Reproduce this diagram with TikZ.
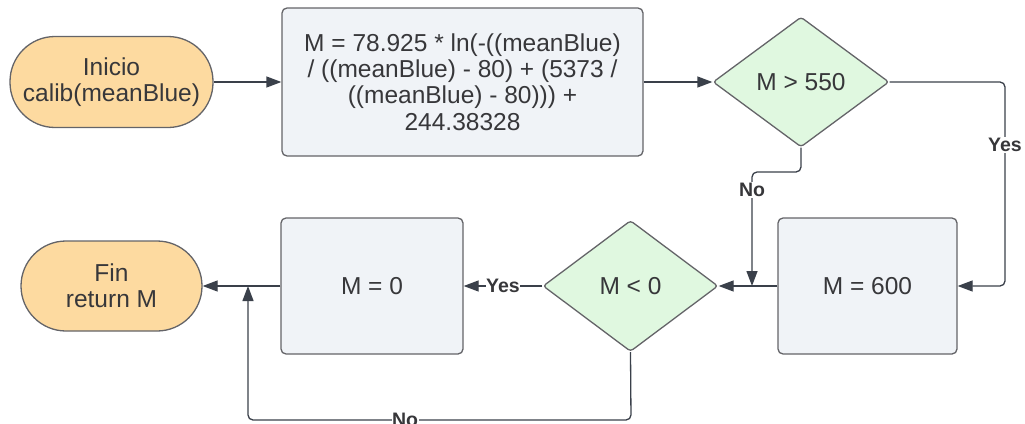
\documentclass[tikz,border=0pt]{standalone}
\usepackage{fontspec}
\setmainfont{Liberation Sans}
\usetikzlibrary{shapes.geometric,arrows.meta}
\definecolor{termfill}{RGB}{253,218,160}
\definecolor{decfill}{RGB}{224,248,224}
\definecolor{procfill}{RGB}{240,243,247}
\definecolor{edgecol}{RGB}{100,100,104}
\definecolor{linecol}{RGB}{58,64,74}
\definecolor{txtcol}{RGB}{55,55,58}
\tikzset{
  base/.style={draw=edgecol, line width=1.3pt, text=txtcol, align=center,
    font=\fontsize{24.5}{26.3}\selectfont, inner sep=0pt},
  term/.style={base, fill=termfill, rounded corners=45pt},
  proc/.style={base, fill=procfill, rounded corners=5pt},
  dec/.style={base, diamond, fill=decfill, rounded corners=3pt},
  arr/.style={draw=linecol, line width=1.3pt, -{Triangle[length=15pt,width=11pt]}},
  lbl/.style={fill=white, inner sep=1pt, text=txtcol, font=\fontsize{19.5}{21}\selectfont\bfseries}
}
\begin{document}
\begin{tikzpicture}[x=1pt,y=-1pt]
\useasboundingbox (0,0) rectangle (1025,423);
\node[term, minimum width=203pt, minimum height=91pt] (ini) at (111.5,82) {Inicio\\calib(meanBlue)};
\node[proc, minimum width=361pt, minimum height=148pt] (calc) at (462.5,82)
  {M = 78.925 * ln(-((meanBlue)\\/ ((meanBlue) - 80) + (5373 /\\((meanBlue) - 80))) +\\244.38328};
\node[dec, minimum width=176pt, minimum height=130pt] (d1) at (801,82) {M > 550};
\node[proc, minimum width=179pt, minimum height=136pt] (m600) at (867.5,286) {M = 600};
\node[dec, minimum width=175pt, minimum height=131pt] (d2) at (630.5,286) {M < 0};
\node[proc, minimum width=182pt, minimum height=136pt] (m0) at (372,286) {M = 0};
\node[term, minimum width=181pt, minimum height=90pt] (fin) at (111.5,286) {Fin\\return M};

\coordinate (yesc) at (1005,200);
\coordinate (noturn) at (752,172);
\coordinate (j1) at (752,286);
\coordinate (nob) at (631,420);
\coordinate (j2) at (248,286);

\draw[arr] (ini.east) -- (calc.west);
\draw[arr] (calc.east) -- (d1.west);
\draw[arr, rounded corners=5pt] (d1.east) -| (yesc) |- (m600.east);
\node[lbl] at (1005,145) {Yes};
\draw[arr, rounded corners=5pt] (d1.south) |- (noturn) -- (j1);
\node[lbl] at (752,190) {No};
\draw[arr] (m600.west) -- (d2.east);
\draw[arr] (d2.west) -- node[lbl, inner sep=0.5pt] {Yes} (m0.east);
\draw[arr] (m0.west) -- (fin.east);
\draw[arr, rounded corners=5pt] (d2.south) -- (nob) -| (j2);
\node[lbl, inner sep=0.5pt] at (405,420) {No};
\end{tikzpicture}
\end{document}
